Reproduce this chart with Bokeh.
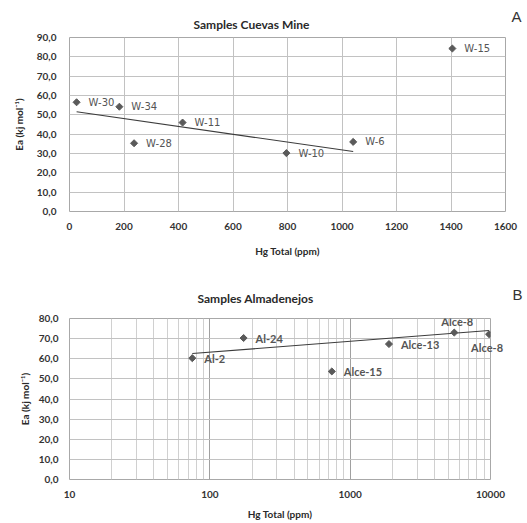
from bokeh.plotting import figure
from bokeh.models import (Range1d, FixedTicker, CustomJSTickFormatter, Label, Title,
                          ColumnDataSource)
from bokeh.core.properties import value
from bokeh.layouts import column
from bokeh.embed import file_html
from bokeh.resources import INLINE

# ---------------- data: chart A ----------------
a_labels = ["W-30", "W-34", "W-11", "W-28", "W-10", "W-6", "W-15"]
a_hg = [26, 183, 415, 237, 796, 1041, 1405]
a_ea = [56.5, 54.2, 46.0, 35.3, 30.2, 36.0, 84.3]
a_trend_x = [26, 1041]
a_trend_y = [51.6, 31.0]
a_xticks = [0, 200, 400, 600, 800, 1000, 1200, 1400, 1600]
a_yticks = [0, 10, 20, 30, 40, 50, 60, 70, 80, 90]

# ---------------- data: chart B ----------------
b_labels = ["Al-2", "Al-24", "Alce-15", "Alce-13", "Alce-8", "Alce-8"]
b_hg = [75, 174, 740, 1890, 5520, 9770]
b_ea = [60.3, 70.3, 53.7, 67.3, 73.0, 72.2]
b_trend_x = [75, 9770]
b_trend_y = [62.6, 74.0]
b_xticks = [10, 100, 1000, 10000]
b_xminor = [m * d for d in (10, 100, 1000) for m in range(2, 10)]
b_yticks = [0, 10, 20, 30, 40, 50, 60, 70, 80]

TICK_FONT = "Lato"
MARK = "#5a5a5a"
GRID = "#c2c2c2"

yfmt = CustomJSTickFormatter(code="return tick.toFixed(1).replace('.', ',');")
xfmt = CustomJSTickFormatter(code="return tick.toFixed(0);")


def style_axes(p):
    for ax in (p.xaxis[0], p.yaxis[0]):
        ax.axis_line_color = None
        ax.major_tick_line_color = None
        ax.minor_tick_line_color = None
        ax.major_tick_out = 0
        ax.major_tick_in = 0
        ax.minor_tick_out = 0
        ax.minor_tick_in = 0
        ax.major_label_text_font = TICK_FONT
        ax.major_label_text_font_style = "bold"
        ax.major_label_text_font_size = "10px"
        ax.major_label_text_color = "#333333"
        ax.axis_label_text_font = TICK_FONT
        ax.axis_label_text_font_style = "bold"
        ax.axis_label_text_font_size = "10px"
        ax.axis_label_text_color = "#2a2a2a"
    p.outline_line_color = "#a8a8a8"
    p.background_fill_color = "white"
    p.border_fill_color = "white"


# ---------------- chart A ----------------
pA = figure(frame_width=436, frame_height=174, output_backend="svg",
            toolbar_location=None,
            x_range=Range1d(0, 1600), y_range=Range1d(0, 90),
            min_border_left=69, min_border_right=22, min_border_top=37,
            min_border_bottom=51)
pA.title = Title(text="Samples Cuevas Mine", align="left", offset=124,
                 text_font=TICK_FONT, text_font_size="12px", text_font_style="bold",
                 text_color="#2a2a2a", standoff=12)
pA.xaxis.ticker = FixedTicker(ticks=a_xticks)
pA.yaxis.ticker = FixedTicker(ticks=a_yticks)
pA.xaxis.formatter = xfmt
pA.yaxis.formatter = yfmt
pA.xaxis.axis_label = "Hg Total (ppm)"
pA.yaxis.axis_label = "Ea (kj mol\u207b\u00b9)"
style_axes(pA)
pA.xaxis.major_label_standoff = 11
pA.xaxis.axis_label_standoff = 12
pA.yaxis.major_label_standoff = 13
pA.yaxis.axis_label_standoff = 9
pA.xgrid.grid_line_color = GRID
pA.ygrid.grid_line_color = GRID

pA.line(a_trend_x, a_trend_y, line_color="#3c3c3c", line_width=1.1)
srcA = ColumnDataSource(dict(x=a_hg, y=a_ea, t=a_labels))
pA.scatter("x", "y", source=srcA, marker="square", size=5, angle=0.785398,
           fill_color=MARK, line_color=MARK)
pA.text("x", "y", "t", source=srcA, x_offset=12, text_baseline="middle",
        text_font=value("DejaVu Sans"), text_font_size="10px", text_color="#555555")
# panel letter lives in a side panel so that it is not clipped to the frame
pA.add_layout(Label(x=511, y=24, x_units="canvas", y_units="canvas", text="A",
                    text_font="Liberation Sans", text_font_size="15px",
                    text_color="#333333"), "right")

# ---------------- chart B ----------------
pB = figure(frame_width=434, frame_height=161, output_backend="svg",
            toolbar_location=None,
            x_axis_type="log", x_range=Range1d(10, 10000), y_range=Range1d(0, 80),
            min_border_left=64, min_border_right=29, min_border_top=55,
            min_border_bottom=44)
pB.title = Title(text="Samples Almadenejos", align="left", offset=128,
                 text_font=TICK_FONT, text_font_size="12px", text_font_style="bold",
                 text_color="#2a2a2a", standoff=25)
pB.xaxis.ticker = FixedTicker(ticks=b_xticks, minor_ticks=b_xminor)
pB.yaxis.ticker = FixedTicker(ticks=b_yticks)
pB.xaxis.formatter = xfmt
pB.yaxis.formatter = yfmt
pB.xaxis.axis_label = "Hg Total (ppm)"
pB.yaxis.axis_label = "Ea (kj mol\u207b\u00b9)"
style_axes(pB)
pB.xaxis.major_label_standoff = 11
pB.xaxis.axis_label_standoff = 7
pB.yaxis.major_label_standoff = 11
pB.yaxis.axis_label_standoff = 5
pB.xgrid.grid_line_color = "#a0a0a0"
pB.xgrid.minor_grid_line_color = "#d0d0d0"
pB.ygrid.grid_line_color = GRID

pB.line(b_trend_x, b_trend_y, line_color="#3c3c3c", line_width=1.1)
srcB = ColumnDataSource(dict(x=b_hg, y=b_ea, t=b_labels))
pB.scatter("x", "y", source=srcB, marker="square", size=5, angle=0.785398,
           fill_color=MARK, line_color=MARK)

right_idx = [0, 1, 2, 3]
srcBr = ColumnDataSource(dict(x=[b_hg[i] for i in right_idx],
                              y=[b_ea[i] for i in right_idx],
                              t=[b_labels[i] for i in right_idx]))
lab_style = dict(text_font=value(TICK_FONT), text_font_style="bold",
                 text_font_size="11px", text_color="#555555")
pB.text("x", "y", "t", source=srcBr, x_offset=12, text_baseline="middle", **lab_style)
srcBa = ColumnDataSource(dict(x=[b_hg[4]], y=[b_ea[4]], t=[b_labels[4]]))
pB.text("x", "y", "t", source=srcBa, x_offset=3, y_offset=-11, text_align="center",
        text_baseline="middle", **lab_style)
# last label sits partly outside the plot frame: put it in a side panel (no clipping)
pB.add_layout(Label(x=b_hg[5], y=b_ea[5], text=b_labels[5], x_offset=-2, y_offset=-13,
                    text_align="center", text_baseline="middle",
                    text_font=TICK_FONT, text_font_style="bold",
                    text_font_size="11px", text_color="#555555"), "right")
pB.add_layout(Label(x=512, y=39, x_units="canvas", y_units="canvas", text="B",
                    text_font="Liberation Sans", text_font_size="15px",
                    text_color="#333333"), "right")

layout = column(pA, pB, width=527, height=523, styles={"overflow": "hidden"})
open("out.html", "w").write(file_html(layout, INLINE))
